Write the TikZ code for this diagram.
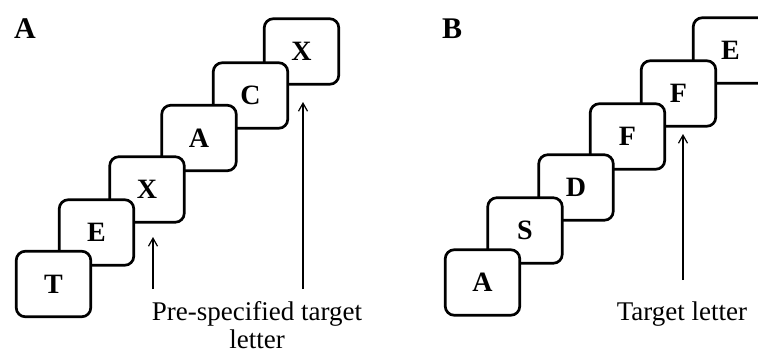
\documentclass[tikz,border=0pt]{standalone}
\usepackage{fontspec}
\setmainfont{Liberation Serif}
\usetikzlibrary{arrows.meta}
\begin{document}
\begin{tikzpicture}[x=1bp,y=-1bp,
  card/.style={draw=black, fill=white, line width=2.7bp, rounded corners=9bp,
    minimum width=74.5bp, minimum height=65.5bp, inner sep=0pt,
    font=\fontsize{28bp}{30bp}\selectfont\bfseries},
  panellabel/.style={inner sep=0pt, anchor=base west,
    font=\fontsize{30bp}{32bp}\selectfont\bfseries},
  caption/.style={inner sep=0pt, anchor=base,
    font=\fontsize{27bp}{30bp}\selectfont},
  pointer/.style={line width=1.2bp, -{Straight Barb[length=8bp,width=9bp]}}]
\useasboundingbox (0,0) rectangle (758,353);
\clip (0,0) rectangle (758,353);

% Panel A (drawn back to front)
\node[panellabel] (labA) at (14,38) {A};
\node[card] (a6) at (301.5,51.5) {X};
\node[card] (a5) at (250.5,95.5) {C};
\node[card] (a4) at (199,138) {A};
\node[card] (a3) at (147,189.5) {X};
\node[card] (a2) at (96.5,232.5) {E};
\node[card] (a1) at (53.5,284) {T};

\coordinate (p1s) at (153,289);
\coordinate (p1e) at (153,237);
\coordinate (p2s) at (303,289);
\coordinate (p2e) at (303,102);
\draw[pointer] (p1s) -- (p1e);
\draw[pointer] (p2s) -- (p2e);
\node[caption] (capA1) at (257,320) {Pre-specified target};
\node[caption] (capA2) at (257,348.5) {letter};

% Panel B
\node[panellabel] (labB) at (442,38) {B};
\node[card] (b6) at (730.5,50.5) {E};
\node[card] (b5) at (678.5,93.5) {F};
\node[card] (b4) at (627.5,136.5) {F};
\node[card] (b3) at (576,187.5) {D};
\node[card] (b2) at (525,230.5) {S};
\node[card] (b1) at (482.5,282.5) {A};

\coordinate (q1s) at (683,280);
\coordinate (q1e) at (683,134);
\draw[pointer] (q1s) -- (q1e);
\node[caption] (capB) at (682,320) {Target letter};
\end{tikzpicture}
\end{document}
